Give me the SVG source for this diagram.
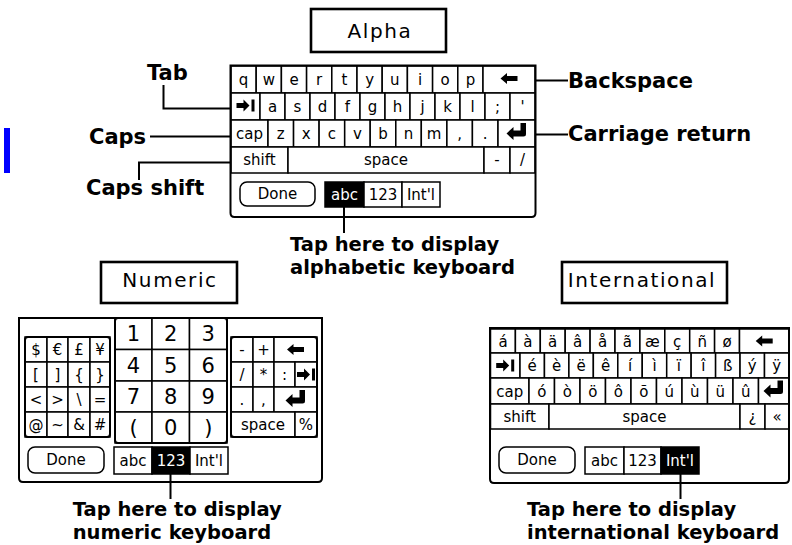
<svg xmlns="http://www.w3.org/2000/svg" xmlns:xlink="http://www.w3.org/1999/xlink" width="792" height="545" viewBox="0 0 792 545">
<style>
.k{fill:#fff;stroke:#000;stroke-width:1.5}
.kb{fill:#000;stroke:#000;stroke-width:1.5}
.fr{fill:none;stroke:#000;stroke-width:2}
.t{font-family:"DejaVu Sans","Liberation Sans",sans-serif;font-size:15px;text-anchor:middle;fill:#000}
.tw{fill:#fff}
.d{font-size:21px}
.lbl{font-family:"DejaVu Sans","Liberation Sans",sans-serif;font-weight:bold;font-size:21px;fill:#000}
.cap{font-size:19.5px}
.ttl{font-family:"DejaVu Sans","Liberation Sans",sans-serif;font-size:20px;letter-spacing:1.6px;text-anchor:middle;fill:#000}
.box{fill:#fff;stroke:#000;stroke-width:2.6}
.c{fill:none;stroke:#000;stroke-width:2}
</style>
<defs>
<path id="bs" d="M-8.5,0 L-2,-5.5 L-2,-2.5 L8.5,-2.5 L8.5,2.5 L-2,2.5 L-2,5.5 Z" fill="#000"/>
<g id="tab" fill="#000"><path d="M-9,-2.5 L-2,-2.5 L-2,-6 L4,0 L-2,6 L-2,2.5 L-9,2.5 Z"/><rect x="6" y="-6" width="3" height="12"/></g>
<path id="ret" d="M-10,2.5 L-3,-4 L-3,-0.5 L4,-0.5 L4,-8 L9.5,-8 L9.5,3 Q9.5,5.5 7,5.5 L-3,5.5 L-3,9 Z" fill="#000"/>
</defs>
<rect x="4" y="128" width="6" height="45" fill="#0000ff"/>

<g id="title-alpha"><rect class="box" x="311" y="9" width="135" height="43"/><text class="ttl" x="380" y="37.5">Alpha</text></g>
<g id="title-numeric"><rect class="box" x="101" y="262" width="136" height="41"/><text class="ttl" x="170" y="287">Numeric</text></g>
<g id="title-international"><rect class="box" x="562" y="262" width="165" height="41"/><text class="ttl" x="642" y="287">International</text></g>

<g id="alpha-keyboard">
<rect x="230.5" y="65.5" width="305" height="151.5" fill="#fff"/>
<g>
<rect class="k" x="231" y="66" width="25.2" height="27"/><rect class="k" x="256.2" y="66" width="25.2" height="27"/><rect class="k" x="281.4" y="66" width="25.2" height="27"/><rect class="k" x="306.6" y="66" width="25.2" height="27"/><rect class="k" x="331.8" y="66" width="25.2" height="27"/><rect class="k" x="357" y="66" width="25.2" height="27"/><rect class="k" x="382.2" y="66" width="25.2" height="27"/><rect class="k" x="407.4" y="66" width="25.2" height="27"/><rect class="k" x="432.6" y="66" width="25.2" height="27"/><rect class="k" x="457.8" y="66" width="25.2" height="27"/><rect class="k" x="483" y="66" width="52" height="27"/>
<text class="t" y="85"><tspan x="243.6">q</tspan><tspan x="268.8">w</tspan><tspan x="294">e</tspan><tspan x="319.2">r</tspan><tspan x="344.4">t</tspan><tspan x="369.6">y</tspan><tspan x="394.8">u</tspan><tspan x="420">i</tspan><tspan x="445.2">o</tspan><tspan x="470.4">p</tspan></text>
<use href="#bs" x="509" y="78.5"/>
</g>
<g>
<rect class="k" x="231" y="93" width="29" height="27"/><rect class="k" x="260" y="93" width="25" height="27"/><rect class="k" x="285" y="93" width="25" height="27"/><rect class="k" x="310" y="93" width="25" height="27"/><rect class="k" x="335" y="93" width="25" height="27"/><rect class="k" x="360" y="93" width="25" height="27"/><rect class="k" x="385" y="93" width="25" height="27"/><rect class="k" x="410" y="93" width="25" height="27"/><rect class="k" x="435" y="93" width="25" height="27"/><rect class="k" x="460" y="93" width="25" height="27"/><rect class="k" x="485" y="93" width="25" height="27"/><rect class="k" x="510" y="93" width="25" height="27"/>
<use href="#tab" x="245.5" y="105.5"/>
<text class="t" y="112"><tspan x="272.5">a</tspan><tspan x="297.5">s</tspan><tspan x="322.5">d</tspan><tspan x="347.5">f</tspan><tspan x="372.5">g</tspan><tspan x="397.5">h</tspan><tspan x="422.5">j</tspan><tspan x="447.5">k</tspan><tspan x="472.5">l</tspan><tspan x="497.5">;</tspan><tspan x="522.5">'</tspan></text>
</g>
<g>
<rect class="k" x="231" y="120" width="37" height="27"/><rect class="k" x="268" y="120" width="25.56" height="27"/><rect class="k" x="293.56" y="120" width="25.56" height="27"/><rect class="k" x="319.1" y="120" width="25.56" height="27"/><rect class="k" x="344.7" y="120" width="25.56" height="27"/><rect class="k" x="370.2" y="120" width="25.56" height="27"/><rect class="k" x="395.8" y="120" width="25.56" height="27"/><rect class="k" x="421.3" y="120" width="25.56" height="27"/><rect class="k" x="446.9" y="120" width="25.56" height="27"/><rect class="k" x="472.4" y="120" width="25.6" height="27"/><rect class="k" x="498" y="120" width="37" height="27"/>
<text class="t" y="139"><tspan x="249.5">cap</tspan><tspan x="280.8">z</tspan><tspan x="306.3">x</tspan><tspan x="331.9">c</tspan><tspan x="357.5">v</tspan><tspan x="383">b</tspan><tspan x="408.6">n</tspan><tspan x="434.1">m</tspan><tspan x="459.7">,</tspan><tspan x="485.2">.</tspan></text>
<use href="#ret" x="516.5" y="131"/>
</g>
<g>
<rect class="k" x="231" y="147" width="57" height="26"/><rect class="k" x="288" y="147" width="196" height="26"/><rect class="k" x="484" y="147" width="26" height="26"/><rect class="k" x="510" y="147" width="25" height="26"/>
<text class="t" y="165"><tspan x="259.5">shift</tspan><tspan x="386">space</tspan><tspan x="497">-</tspan><tspan x="522.5">/</tspan></text>
</g>
<rect class="k" x="240" y="182" width="75" height="24" rx="7"/><text class="t" x="277.5" y="199">Done</text>
<rect class="kb" x="325" y="182" width="39" height="25"/><rect class="k" x="364" y="182" width="38" height="25"/><rect class="k" x="402" y="182" width="38" height="25"/>
<text class="t" y="200"><tspan class="tw" x="344.5">abc</tspan><tspan x="383">123</tspan><tspan x="421">Int'l</tspan></text>
<path class="fr" d="M230.5,65.5 H535.5 V213 Q535.5,217 531.5,217 H234.5 Q230.5,217 230.5,213 Z"/>
</g>

<g id="numeric-keyboard">
<rect x="19" y="318" width="303" height="164" fill="#fff"/>
<g id="num-left">
<rect class="k" x="25" y="337" width="22" height="25"/><rect class="k" x="47" y="337" width="21" height="25"/><rect class="k" x="68" y="337" width="22" height="25"/><rect class="k" x="90" y="337" width="20" height="25"/>
<rect class="k" x="25" y="362" width="22" height="25"/><rect class="k" x="47" y="362" width="21" height="25"/><rect class="k" x="68" y="362" width="22" height="25"/><rect class="k" x="90" y="362" width="20" height="25"/>
<rect class="k" x="25" y="387" width="22" height="25"/><rect class="k" x="47" y="387" width="21" height="25"/><rect class="k" x="68" y="387" width="22" height="25"/><rect class="k" x="90" y="387" width="20" height="25"/>
<rect class="k" x="25" y="412" width="22" height="25"/><rect class="k" x="47" y="412" width="21" height="25"/><rect class="k" x="68" y="412" width="22" height="25"/><rect class="k" x="90" y="412" width="20" height="25"/>
<rect class="fr" x="25" y="337" width="85" height="100" rx="3"/>
<text class="t" y="355"><tspan x="36">$</tspan><tspan x="57.5">€</tspan><tspan x="79">£</tspan><tspan x="100">¥</tspan></text>
<text class="t" y="380"><tspan x="36">[</tspan><tspan x="57.5">]</tspan><tspan x="79">{</tspan><tspan x="100">}</tspan></text>
<text class="t" y="405"><tspan x="36">&lt;</tspan><tspan x="57.5">&gt;</tspan><tspan x="79">\</tspan><tspan x="100">=</tspan></text>
<text class="t" y="430"><tspan x="36">@</tspan><tspan x="57.5">~</tspan><tspan x="79">&amp;</tspan><tspan x="100">#</tspan></text>
</g>
<g id="num-pad">
<rect class="k" x="115" y="318" width="37" height="31.5"/><rect class="k" x="152" y="318" width="37.5" height="31.5"/><rect class="k" x="189.5" y="318" width="37.5" height="31.5"/>
<rect class="k" x="115" y="349.5" width="37" height="31.5"/><rect class="k" x="152" y="349.5" width="37.5" height="31.5"/><rect class="k" x="189.5" y="349.5" width="37.5" height="31.5"/>
<rect class="k" x="115" y="381" width="37" height="31"/><rect class="k" x="152" y="381" width="37.5" height="31"/><rect class="k" x="189.5" y="381" width="37.5" height="31"/>
<rect class="k" x="115" y="412" width="37" height="31"/><rect class="k" x="152" y="412" width="37.5" height="31"/><rect class="k" x="189.5" y="412" width="37.5" height="31"/>
<rect class="fr" x="115" y="318" width="112" height="125" rx="3"/>
<text class="t d" y="341"><tspan x="133.5">1</tspan><tspan x="170.75">2</tspan><tspan x="208.25">3</tspan></text>
<text class="t d" y="372.5"><tspan x="133.5">4</tspan><tspan x="170.75">5</tspan><tspan x="208.25">6</tspan></text>
<text class="t d" y="404"><tspan x="133.5">7</tspan><tspan x="170.75">8</tspan><tspan x="208.25">9</tspan></text>
<text class="t d" y="435"><tspan x="133.5">(</tspan><tspan x="170.75">0</tspan><tspan x="208.25">)</tspan></text>
</g>
<g id="num-right">
<rect class="k" x="231" y="337" width="22" height="25"/><rect class="k" x="253" y="337" width="21" height="25"/><rect class="k" x="274" y="337" width="43" height="25"/>
<rect class="k" x="231" y="362" width="22" height="25"/><rect class="k" x="253" y="362" width="21" height="25"/><rect class="k" x="274" y="362" width="21" height="25"/><rect class="k" x="295" y="362" width="22" height="25"/>
<rect class="k" x="231" y="387" width="22" height="25"/><rect class="k" x="253" y="387" width="21" height="25"/><rect class="k" x="274" y="387" width="43" height="25"/>
<rect class="k" x="231" y="412" width="64" height="25"/><rect class="k" x="295" y="412" width="22" height="25"/>
<rect class="fr" x="231" y="337" width="86" height="100" rx="3"/>
<text class="t" y="355"><tspan x="242">-</tspan><tspan x="263.5">+</tspan></text>
<use href="#bs" x="295.5" y="349.5"/>
<text class="t" y="380"><tspan x="242">/</tspan><tspan x="263.5">*</tspan><tspan x="284.5">:</tspan></text>
<use href="#tab" x="306" y="374.5"/>
<text class="t" y="405"><tspan x="242">.</tspan><tspan x="263.5">,</tspan></text>
<use href="#ret" x="295.5" y="398"/>
<text class="t" y="430"><tspan x="263">space</tspan><tspan x="306">%</tspan></text>
</g>
<rect class="k" x="28" y="447" width="76" height="26" rx="7"/><text class="t" x="66" y="465">Done</text>
<rect class="k" x="114" y="447" width="38" height="27"/><rect class="kb" x="152" y="447" width="38" height="27"/><rect class="k" x="190" y="447" width="38" height="27"/>
<text class="t" y="466"><tspan x="133">abc</tspan><tspan class="tw" x="171">123</tspan><tspan x="209">Int'l</tspan></text>
<path class="fr" d="M19,318 H322 V478 Q322,482 318,482 H23 Q19,482 19,478 Z"/>
</g>

<g id="international-keyboard">
<rect x="490" y="328" width="300" height="155" fill="#fff"/>
<g>
<rect class="k" x="490.5" y="329" width="24.9" height="24"/><rect class="k" x="515.4" y="329" width="24.9" height="24"/><rect class="k" x="540.3" y="329" width="24.9" height="24"/><rect class="k" x="565.2" y="329" width="24.9" height="24"/><rect class="k" x="590.1" y="329" width="24.9" height="24"/><rect class="k" x="615" y="329" width="24.9" height="24"/><rect class="k" x="639.9" y="329" width="24.9" height="24"/><rect class="k" x="664.8" y="329" width="24.9" height="24"/><rect class="k" x="689.7" y="329" width="24.9" height="24"/><rect class="k" x="714.6" y="329" width="24.9" height="24"/><rect class="k" x="739.5" y="329" width="49.5" height="24"/>
<text class="t" y="346.5"><tspan x="503">á</tspan><tspan x="527.9">à</tspan><tspan x="552.7">ä</tspan><tspan x="577.6">â</tspan><tspan x="602.5">å</tspan><tspan x="627.4">ã</tspan><tspan x="652.4">æ</tspan><tspan x="677.2">ç</tspan><tspan x="702.2">ñ</tspan><tspan x="727.1">ø</tspan></text>
<use href="#bs" x="764.2" y="341"/>
</g>
<g>
<rect class="k" x="490.5" y="353" width="29.5" height="25"/><rect class="k" x="520" y="353" width="24.45" height="25"/><rect class="k" x="544.45" y="353" width="24.45" height="25"/><rect class="k" x="568.9" y="353" width="24.45" height="25"/><rect class="k" x="593.35" y="353" width="24.45" height="25"/><rect class="k" x="617.8" y="353" width="24.45" height="25"/><rect class="k" x="642.25" y="353" width="24.45" height="25"/><rect class="k" x="666.7" y="353" width="24.45" height="25"/><rect class="k" x="691.15" y="353" width="24.45" height="25"/><rect class="k" x="715.6" y="353" width="24.45" height="25"/><rect class="k" x="740.05" y="353" width="24.45" height="25"/><rect class="k" x="764.5" y="353" width="24.5" height="25"/>
<use href="#tab" x="505.2" y="365.5"/>
<text class="t" y="371"><tspan x="532.2">é</tspan><tspan x="556.7">è</tspan><tspan x="581.1">ë</tspan><tspan x="605.6">ê</tspan><tspan x="630">í</tspan><tspan x="654.5">ì</tspan><tspan x="678.9">ï</tspan><tspan x="703.4">î</tspan><tspan x="727.8">ß</tspan><tspan x="752.3">ý</tspan><tspan x="776.7">ÿ</tspan></text>
</g>
<g>
<rect class="k" x="490.5" y="378" width="38.5" height="26"/><rect class="k" x="529" y="378" width="25.5" height="26"/><rect class="k" x="554.5" y="378" width="25.5" height="26"/><rect class="k" x="580" y="378" width="25.5" height="26"/><rect class="k" x="605.5" y="378" width="25.5" height="26"/><rect class="k" x="631" y="378" width="25.5" height="26"/><rect class="k" x="656.5" y="378" width="25.5" height="26"/><rect class="k" x="682" y="378" width="25.5" height="26"/><rect class="k" x="707.5" y="378" width="25.5" height="26"/><rect class="k" x="733" y="378" width="25.5" height="26"/><rect class="k" x="758.5" y="378" width="30.5" height="26"/>
<text class="t" y="396.5"><tspan x="509.7">cap</tspan><tspan x="541.75">ó</tspan><tspan x="567.25">ò</tspan><tspan x="592.75">ö</tspan><tspan x="618.25">ô</tspan><tspan x="643.75">õ</tspan><tspan x="669.25">ú</tspan><tspan x="694.75">ù</tspan><tspan x="720.25">ü</tspan><tspan x="745.75">û</tspan></text>
<use href="#ret" x="773.5" y="388.5"/>
</g>
<g>
<rect class="k" x="490.5" y="404" width="58.5" height="25"/><rect class="k" x="549" y="404" width="191" height="25"/><rect class="k" x="740" y="404" width="25" height="25"/><rect class="k" x="765" y="404" width="24" height="25"/>
<text class="t" y="421.5"><tspan x="519.7">shift</tspan><tspan x="644.5">space</tspan><tspan x="752.5">¿</tspan><tspan x="777">«</tspan></text>
</g>
<rect class="k" x="499" y="447" width="76" height="26" rx="7"/><text class="t" x="537" y="465">Done</text>
<rect class="k" x="585" y="447" width="39" height="27"/><rect class="k" x="624" y="447" width="37" height="27"/><rect class="kb" x="661" y="447" width="38" height="27"/>
<text class="t" y="466"><tspan x="604.5">abc</tspan><tspan x="642.5">123</tspan><tspan class="tw" x="680">Int'l</tspan></text>
<path class="fr" d="M490,328 H789 V479 Q789,483 785,483 H494 Q490,483 490,479 Z"/>
</g>

<g id="connectors">
<polyline class="c" points="163.5,85 163.5,108.5 230,108.5"/>
<line class="c" x1="150" y1="136.5" x2="230" y2="136.5"/>
<polyline class="c" points="139,180 139,162.5 230,162.5"/>
<line class="c" x1="536" y1="80.5" x2="568" y2="80.5"/>
<line class="c" x1="536" y1="134.5" x2="568" y2="134.5"/>
<line class="c" x1="344" y1="207" x2="344" y2="233"/>
<line class="c" x1="170.5" y1="474" x2="170.5" y2="499"/>
<line class="c" x1="680.5" y1="474" x2="680.5" y2="499"/>
</g>

<g id="label-tab"><text class="lbl" x="147" y="80">Tab</text></g>
<g id="label-caps"><text class="lbl" x="89" y="143.5">Caps</text></g>
<g id="label-caps-shift"><text class="lbl" x="86" y="195">Caps shift</text></g>
<g id="label-backspace"><text class="lbl" x="568" y="87.5">Backspace</text></g>
<g id="label-carriage-return"><text class="lbl" x="568" y="141">Carriage return</text></g>
<g id="label-alpha-tap"><text class="lbl cap" x="290"><tspan x="290" y="251">Tap here to display</tspan><tspan x="290" y="274">alphabetic keyboard</tspan></text></g>
<g id="label-numeric-tap"><text class="lbl cap" x="72.7"><tspan x="72.7" y="516">Tap here to display</tspan><tspan x="72.7" y="539">numeric keyboard</tspan></text></g>
<g id="label-international-tap"><text class="lbl cap" x="527"><tspan x="527" y="516">Tap here to display</tspan><tspan x="527" y="539">international keyboard</tspan></text></g>
</svg>
